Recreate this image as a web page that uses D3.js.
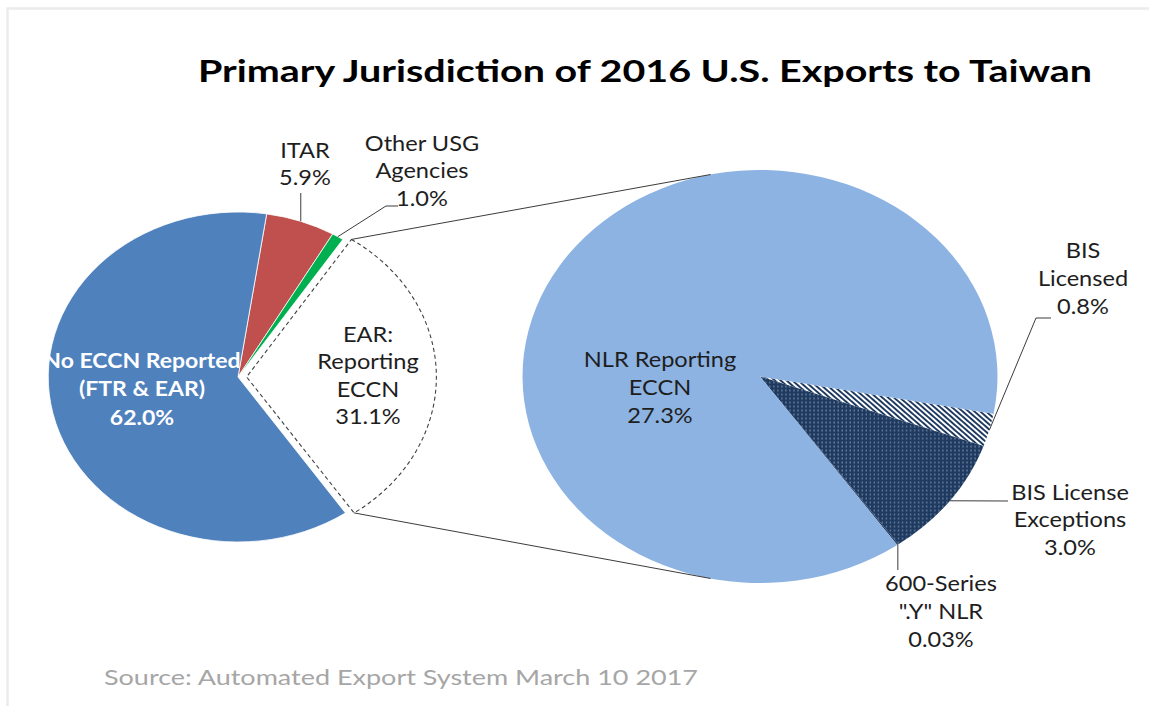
<!DOCTYPE html>
<html><head><meta charset="utf-8">
<script src="https://cdn.jsdelivr.net/npm/d3@7"></script>
<style>
body{margin:0;background:#fff}
svg{display:block}
text{font-family:Lato,"Open Sans","Noto Sans",sans-serif}
</style>
</head><body>
<svg id="c" width="1149" height="706"></svg>
<script>
// ---------------- data ----------------
const titleText = "Primary Jurisdiction of 2016 U.S. Exports to Taiwan";
const sourceText = "Source: Automated Export System March 10 2017";

const mainCategories = ["ITAR", "Other USG Agencies", "EAR: Reporting ECCN", "No ECCN Reported (FTR & EAR)"];
const mainValues = [5.9, 1.0, 31.1, 62.0];
const mainLabelLines = [["ITAR", "5.9%"], ["Other USG", "Agencies", "1.0%"], ["EAR:", "Reporting", "ECCN", "31.1%"], ["No ECCN Reported", "(FTR & EAR)", "62.0%"]];

const subCategories = ["BIS Licensed", "BIS License Exceptions", "600-Series \".Y\" NLR", "NLR Reporting ECCN"];
const subValues = [0.8, 3.0, 0.03, 27.3];
const subLabelLines = [["BIS", "Licensed", "0.8%"], ["BIS License", "Exceptions", "3.0%"], ["600-Series", "\".Y\" NLR", "0.03%"], ["NLR Reporting", "ECCN", "27.3%"]];

// ---------------- layout / style ----------------
const SX = 1.15;                 // horizontal stretch of the whole picture
const X = xs => xs / SX;         // screen x -> frame x
const deg = d => d * Math.PI / 180;

const mainC = {x: X(238), y: 377, r: 165, start: deg(8.7)};
const subC  = {x: X(760), y: 376.5, r: 206.5, start: deg(100.4)};
const explodeIdx = 2, explodeDist = 7.5;
const connectorAngles = [deg(-12), deg(192)];

const mainFills = ["#C0504D", "#00B050", "#FFFFFF", "#4F81BD"];
const subFills  = ["url(#stripes)", "url(#dots)", "#1F3A60", "#8DB3E2"];
const navy = "#1F3A60";
const lineCol = "#3c3c3c";
const textCol = "#1e1e1e";

// label anchors (screen x, first baseline y, line height)
const mainLabelPos = [
  {x: 305, y: 158, lh: 27.5},
  {x: 422, y: 151, lh: 27.5},
  {x: 368, y: 342, lh: 27.4},
  {x: 142, y: 368, lh: 28.5}
];
const subLabelPos = [
  {x: 1083, y: 258, lh: 28},
  {x: 1070, y: 500, lh: 27.5},
  {x: 941,  y: 591, lh: 28},
  {x: 660,  y: 367, lh: 28}
];

// ---------------- drawing ----------------
const svg = d3.select("#c");

// faint frame
svg.append("path").attr("d", "M7.5,706 L7.5,8.5 L1149,8.5")
  .attr("fill", "none").attr("stroke", "#ececec").attr("stroke-width", 2.5);

const defs = svg.append("defs");
const st = defs.append("pattern").attr("id", "stripes").attr("patternUnits", "userSpaceOnUse")
  .attr("width", 3.6).attr("height", 3.6).attr("patternTransform", "rotate(-45)");
st.append("rect").attr("width", 3.6).attr("height", 3.6).attr("fill", navy);
st.append("rect").attr("width", 1.8).attr("height", 3.6).attr("fill", "#ffffff");

const dt = defs.append("pattern").attr("id", "dots").attr("patternUnits", "userSpaceOnUse")
  .attr("width", 3.5).attr("height", 4);
dt.append("rect").attr("width", 3.5).attr("height", 4).attr("fill", navy);
dt.append("rect").attr("x", 1).attr("y", 1.5).attr("width", 1).attr("height", 1).attr("fill", "#c9d3e0");

const g = svg.append("g").attr("transform", `scale(${SX},1)`);

const pt = (c, a, r) => [c.x + r * Math.sin(a), c.y - r * Math.cos(a)];

// main pie
const mainArcs = d3.pie().sort(null).value(d => d)
  .startAngle(mainC.start).endAngle(mainC.start + 2 * Math.PI)(mainValues);
const mainArc = d3.arc().innerRadius(0).outerRadius(mainC.r);

const mg = g.append("g").attr("transform", `translate(${mainC.x},${mainC.y})`);
mg.selectAll("path").data(mainArcs).join("path")
  .attr("transform", (d, i) => {
    if (i !== explodeIdx) return null;
    const m = (d.startAngle + d.endAngle) / 2;
    return `translate(${explodeDist * Math.sin(m)},${-explodeDist * Math.cos(m)})`;
  })
  .attr("d", mainArc)
  .attr("fill", (d, i) => mainFills[i])
  .attr("stroke", (d, i) => i === explodeIdx ? "#404040" : "#ffffff")
  .attr("stroke-width", (d, i) => i === explodeIdx ? 1.1 : 0.8)
  .attr("stroke-dasharray", (d, i) => i === explodeIdx ? "4,3" : null)
  .attr("vector-effect", "non-scaling-stroke");

// sub pie
const subArcs = d3.pie().sort(null).value(d => d)
  .startAngle(subC.start).endAngle(subC.start + 2 * Math.PI)(subValues);
const subArc = d3.arc().innerRadius(0).outerRadius(subC.r);
const sg = g.append("g").attr("transform", `translate(${subC.x},${subC.y})`);
sg.selectAll("path").data(subArcs).join("path")
  .attr("d", subArc)
  .attr("fill", (d, i) => subFills[i])
  .attr("stroke", "none");

// connector lines between exploded slice and sub pie
const ex = mainArcs[explodeIdx];
const exMid = (ex.startAngle + ex.endAngle) / 2;
const exC = {x: mainC.x + explodeDist * Math.sin(exMid), y: mainC.y - explodeDist * Math.cos(exMid)};
[[ex.startAngle, connectorAngles[0]], [ex.endAngle, connectorAngles[1]]].forEach(([a1, a2]) => {
  const p1 = pt(exC, a1, mainC.r), p2 = pt(subC, a2, subC.r);
  g.append("line").attr("x1", p1[0]).attr("y1", p1[1]).attr("x2", p2[0]).attr("y2", p2[1])
    .attr("stroke", lineCol).attr("stroke-width", 1).attr("vector-effect", "non-scaling-stroke");
});

// leader lines (start on the slice's outer edge at its mid angle)
const leader = (c, d, r, pts) => {
  const m = (d.startAngle + d.endAngle) / 2;
  const p = pt(c, m, r);
  const all = [p].concat(pts.map(q => [q[0] === null ? p[0] : X(q[0]), q[1]]));
  g.append("path").attr("d", d3.line()(all)).attr("fill", "none")
    .attr("stroke", lineCol).attr("stroke-width", 1).attr("vector-effect", "non-scaling-stroke");
};
leader(mainC, mainArcs[0], mainC.r, [[null, 193]]);
leader(mainC, mainArcs[1], mainC.r, [[386, 206], [398, 206]]);
leader(subC, subArcs[0], subC.r, [[1036, 318], [1051, 318]]);
leader(subC, subArcs[1], subC.r, [[1008, 501]]);
leader(subC, subArcs[2], subC.r, [[null, 570]]);

// labels
const drawLabel = (lines, pos, opts) => {
  const t = g.append("text").attr("text-anchor", "middle")
    .attr("font-size", opts.size).attr("font-weight", opts.weight || 400)
    .attr("fill", opts.fill || textCol);
  lines.forEach((s, i) => t.append("tspan").attr("x", X(pos.x)).attr("y", pos.y + i * pos.lh).text(s));
};
mainLabelLines.forEach((l, i) => drawLabel(l, mainLabelPos[i],
  i === 3 ? {size: 20, weight: 700, fill: "#ffffff"} : {size: 20.5}));
subLabelLines.forEach((l, i) => drawLabel(l, subLabelPos[i], {size: 20.5}));

// title
g.append("text").attr("x", X(198)).attr("y", 82).attr("text-anchor", "start")
  .attr("font-size", 30).attr("font-weight", 700).attr("fill", "#000")
  .attr("textLength", X(1092) - X(198)).attr("lengthAdjust", "spacingAndGlyphs")
  .text(titleText);

// source
g.append("text").attr("x", X(104)).attr("y", 685).attr("text-anchor", "start")
  .attr("font-size", 21).attr("fill", "#a6a6a6")
  .attr("textLength", X(698) - X(104)).attr("lengthAdjust", "spacingAndGlyphs")
  .text(sourceText);
</script>
</body></html>
